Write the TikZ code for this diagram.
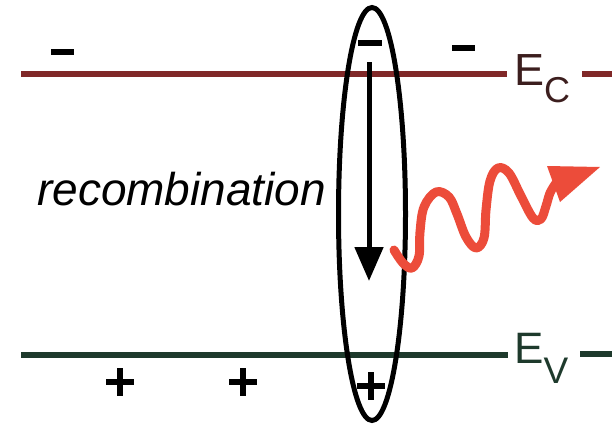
\documentclass[tikz,border=0pt]{standalone}
\usepackage{fontspec}
\setmainfont{Liberation Sans}
\usetikzlibrary{arrows.meta}
\definecolor{ecred}{RGB}{128,40,40}
\definecolor{evgreen}{RGB}{30,58,44}
\definecolor{ectext}{RGB}{60,30,30}
\definecolor{wavered}{RGB}{236,76,58}
\tikzset{
  band/.style={line width=6pt},
  sign/.style={line width=5.5pt, black},
  lbl/.style={inner sep=0pt, anchor=base west},
}
\newcommand{\plussign}[2]{\draw[sign] (#1-14,#2) -- (#1+14,#2) (#1,#2-14) -- (#1,#2+14);}
\begin{document}
\begin{tikzpicture}[x=1pt,y=-1pt]
\useasboundingbox (0,0) rectangle (615,428);
% bands
\draw[band, ecred] (21,73.5) -- (507,73.5);
\draw[band, ecred] (582,73.5) -- (612,73.5);
\draw[band, evgreen] (21,355) -- (508,355);
\draw[band, evgreen] (580,354) -- (612,354);
\node[lbl, text=ectext, font=\fontsize{45}{50}\selectfont] (ec) at (514,85)
  {E\raisebox{-17pt}{\fontsize{36}{40}\selectfont C}};
\node[lbl, text=evgreen, font=\fontsize{44}{50}\selectfont] (ev) at (514,363)
  {E\raisebox{-20pt}{\fontsize{37}{40}\selectfont V}};
% signs
\draw[sign] (51,52) -- (74,52);
\draw[sign] (452,48) -- (475,48);
\draw[sign] (358,43) -- (382,43);
\plussign{120}{382}
\plussign{243}{382}
\plussign{371}{386}
% ellipse
\draw[line width=5pt] (372,214) ellipse [x radius=33.5, y radius=206.5];
% recombination arrow
\coordinate (a1) at (369,62);
\coordinate (a2) at (369,281);
\draw[line width=5pt, -{Triangle[length=34pt,width=28pt]}] (a1) -- (a2);
\node[lbl, font=\fontsize{46}{50}\selectfont\itshape] (rec) at (37,205) {recombination};
% photon
\draw[wavered, line width=9pt, line cap=round, line join=round]
  plot[smooth, tension=0.6] coordinates {(394,250) (403,263) (412,268) (419,256) (420,232) (424,207) (436,192) (449,197) (457,214) (466,237) (476,248) (484,238) (486,210) (490,181) (498,168) (509,173) (521,196) (533,218) (541,219) (546,206) (550,193) (556,183)};
\fill[wavered] (547,166) -- (600,167) -- (560,202) -- cycle;
\end{tikzpicture}
\end{document}
